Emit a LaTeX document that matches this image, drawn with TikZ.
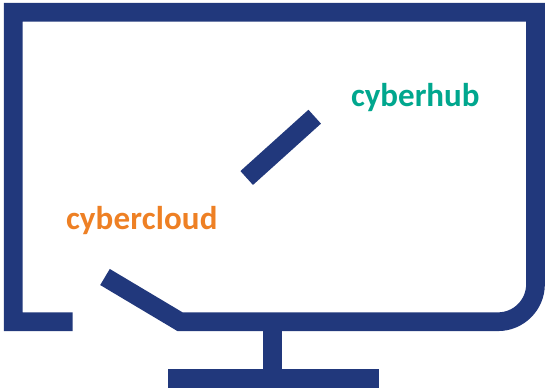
\documentclass[tikz,border=0pt]{standalone}
\usepackage{fontspec}
\setmainfont{Carlito}
\definecolor{navy}{HTML}{21387C}
\definecolor{brandorange}{HTML}{EE8024}
\definecolor{brandteal}{HTML}{00A78E}
\tikzset{
  stroke/.style={draw=navy,line width=18.7pt,line cap=butt,line join=miter},
  brand/.style={inner sep=0pt,outer sep=0pt,anchor=base west,font=\fontsize{33}{33}\selectfont\bfseries}
}
\begin{document}
\begin{tikzpicture}[x=1pt,y=-1pt]
\useasboundingbox (0,0) rectangle (547,388);
\fill[white] (0,0) rectangle (547,388);
\draw[stroke] (72.7,321.7) -- (13.3,321.7) -- (13.3,12.2) -- (535.5,12.2) -- (535.5,284.2)
  .. controls (535.5,304.9) and (518.7,321.7) .. (498,321.7) -- (180,321.7) -- (105,277);
\draw[stroke] (314.7,116.7) -- (246.7,178);
\draw[stroke] (272.7,321.7) -- (272.7,378.3);
\draw[stroke] (168,378.3) -- (378.7,378.3);
\node[brand,text=brandteal] (hub) at (351,106) {cyberhub};
\node[brand,text=brandorange] (cloud) at (66,229) {\addfontfeature{LetterSpace=0.5}cybercloud};
\end{tikzpicture}
\end{document}
